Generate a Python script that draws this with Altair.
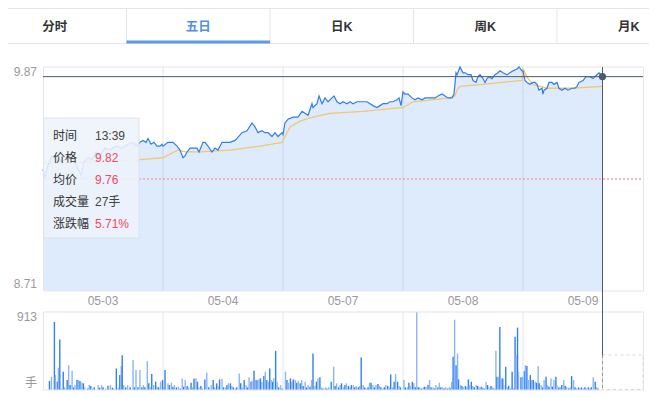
import altair as alt
import pandas as pd

FONT = "Arial, 'Noto Sans CJK SC', sans-serif"

# ---------------- data ----------------
tabs = ["分时", "五日", "日K", "周K", "月K"]
active_tab = "五日"

day_labels = ["05-03", "05-04", "05-07", "05-08", "05-09"]
day_centers = [120, 360, 600, 840, 1080]      # minute index (240 per day)
day_bounds = [240, 480, 720, 960]

price_top, price_bottom = 9.87, 8.71
prev_close = 9.29
vol_max = 913
cur_m, cur_price = 1119, 9.82

price_m = [0, 4, 10, 18, 26, 38, 50, 62, 70, 76, 82, 90, 98, 106, 114, 124, 134, 146, 158, 170,
           180, 188, 194, 200, 206, 210, 216, 222, 228, 234, 238,
           240, 250, 260, 268, 274, 280, 284, 288, 294, 300, 308, 312, 320, 324, 330, 338, 344, 350,
           358, 364, 374, 384, 388, 398, 408, 418, 424, 430, 438, 444, 450, 458, 464, 470, 478,
           480, 484, 490, 500, 510, 518, 524, 530, 538, 540, 548, 552, 558, 564, 570, 578, 582, 588,
           594, 600, 608, 614, 620, 628, 634, 640, 648, 654, 660, 668, 674, 680, 688, 694, 700, 708,
           712, 716,
           720, 724, 730, 738, 744, 750, 758, 764, 770, 778, 784, 790, 798, 804, 810, 818, 822, 826,
           828, 834, 840, 844, 850, 856, 860, 866, 870, 874, 880, 884, 888, 892, 898, 904, 910, 914,
           920, 928, 934, 940, 948, 952, 958,
           960, 964, 968, 974, 980, 984, 988, 992, 998, 1000, 1002, 1008, 1012, 1018, 1022, 1028,
           1032, 1038, 1044, 1050, 1058, 1064, 1068, 1072, 1080, 1086, 1094, 1100, 1104, 1108, 1112,
           1116, 1119]
price_v = [9.34, 9.30, 9.36, 9.41, 9.39, 9.38, 9.40, 9.39, 9.34, 9.31, 9.38, 9.40, 9.39, 9.43, 9.41,
           9.45, 9.44, 9.46, 9.45, 9.47, 9.48, 9.46, 9.48, 9.49, 9.48, 9.50, 9.47, 9.48, 9.46, 9.46, 9.47,
           9.46, 9.48, 9.48, 9.46, 9.44, 9.40, 9.41, 9.43, 9.45, 9.45, 9.45, 9.43, 9.48, 9.48, 9.46, 9.43,
           9.45, 9.44, 9.48, 9.48, 9.48, 9.49, 9.50, 9.53, 9.54, 9.58, 9.56, 9.53, 9.54, 9.53, 9.53, 9.51,
           9.53, 9.51, 9.53,
           9.52, 9.58, 9.60, 9.61, 9.61, 9.64, 9.63, 9.62, 9.68, 9.66, 9.68, 9.72, 9.68, 9.71, 9.69, 9.71,
           9.72, 9.69, 9.68, 9.69, 9.68, 9.69, 9.68, 9.69, 9.69, 9.69, 9.69, 9.68, 9.67, 9.66, 9.67, 9.68,
           9.68, 9.69, 9.69, 9.70, 9.71, 9.67,
           9.74, 9.73, 9.73, 9.71, 9.70, 9.71, 9.70, 9.71, 9.71, 9.71, 9.71, 9.72, 9.73, 9.72, 9.71, 9.71,
           9.73, 9.84, 9.83, 9.87, 9.84, 9.84, 9.83, 9.83, 9.80, 9.79, 9.82, 9.83, 9.81, 9.79, 9.81, 9.82,
           9.81, 9.83, 9.84, 9.85, 9.84, 9.83, 9.84, 9.85, 9.86, 9.87, 9.85,
           9.85, 9.80, 9.79, 9.78, 9.79, 9.79, 9.78, 9.75, 9.76, 9.73, 9.75, 9.76, 9.79, 9.79, 9.78, 9.79,
           9.76, 9.75, 9.76, 9.75, 9.76, 9.76, 9.77, 9.79, 9.80, 9.82, 9.82, 9.81, 9.82, 9.83, 9.84, 9.83,
           9.82]

avg_m = [0, 114, 194, 238, 240, 270, 284, 314, 374, 434, 478, 480, 484, 494, 514, 540, 574, 640, 716,
         720, 740, 814, 824, 828, 834, 880, 958, 960, 970, 980, 1008, 1054, 1119]
avg_v = [9.37, 9.38, 9.39, 9.40, 9.40, 9.44, 9.43, 9.43, 9.44, 9.46, 9.48, 9.49, 9.51, 9.56, 9.59, 9.61,
         9.63, 9.64, 9.66, 9.66, 9.69, 9.71, 9.72, 9.75, 9.77, 9.78, 9.80, 9.86, 9.81, 9.78, 9.76, 9.76,
         9.77]

vol_m = [3, 7, 13, 15, 19, 21, 24, 27, 31, 34, 39, 42, 45, 49, 52, 55, 59, 62, 65, 69, 72, 75, 81, 84,
         87, 91, 94, 102, 105, 109, 112, 117, 122, 127, 131, 134, 139, 143, 146, 149, 151, 154, 158,
         162, 167, 173, 176, 179, 183, 187, 191, 194, 197, 202, 205, 209, 211, 215, 219, 222, 225, 229,
         233, 235, 238,
         244, 247, 251, 254, 257, 261, 265, 269, 273, 276, 279, 283, 286, 291, 294, 297, 301, 304, 307,
         311, 314, 319, 323, 327, 332, 336, 339, 343, 346, 349, 354, 357, 361, 364, 367, 371, 374, 377,
         381, 384, 389, 392, 395, 399, 403, 406, 409, 413, 415, 419, 422, 425, 429, 432, 435, 439, 442,
         445, 449, 451, 454, 457, 459, 463, 466, 469, 473, 476,
         483, 486, 489, 493, 496, 499, 503, 506, 509, 513, 516, 519, 523, 526, 529, 533, 536, 539, 543,
         546, 549, 553, 556, 559, 564, 567, 571, 576, 581, 584, 587, 591, 594, 597, 601, 604, 607, 611,
         614, 617, 621, 624, 627, 631, 634, 637, 641, 644, 647, 651, 654, 657, 661, 664, 667, 671, 674,
         677, 681, 684, 687, 691, 694, 697, 701, 704, 707, 711, 714, 717,
         724, 727, 731, 734, 737, 741, 744, 747, 750, 753, 756, 759, 763, 766, 769, 773, 776, 779, 783,
         786, 789, 793, 796, 799, 803, 806, 809, 813, 816, 819, 821, 824, 827, 830, 833, 835, 839, 842,
         845, 849, 852, 855, 857, 861, 864, 867, 871, 874, 877, 881, 884, 887, 891, 894, 897, 901, 904,
         907, 911, 913, 916, 919, 922, 925, 927, 931, 934, 937, 941, 944, 947, 950, 952, 955, 957,
         962, 965, 969, 971, 974, 977, 981, 984, 987, 991, 994, 997, 999, 1003, 1006, 1009, 1013, 1016,
         1019, 1023, 1026, 1029, 1033, 1035, 1039, 1042, 1045, 1049, 1052, 1055, 1059, 1062, 1065, 1069,
         1072, 1075, 1079, 1082, 1085, 1089, 1092, 1095, 1099, 1102, 1105, 1109, 1113, 1116, 1119]
vol_v = [105, 155, 796, 175, 97, 260, 590, 19, 214, 31, 117, 291, 58, 225, 31, 58, 117, 117, 105, 89, 78,
         31, 19, 58, 47, 19, 31, 58, 27, 58, 31, 19, 51, 58, 27, 19, 252, 27, 175, 280, 408, 58, 31, 58,
         31, 350, 31, 233, 31, 233, 31, 58, 31, 338, 78, 31, 186, 58, 97, 39, 31, 97, 117, 31, 233,
         78, 58, 85, 39, 58, 31, 39, 19, 136, 39, 117, 47, 31, 85, 31, 136, 136, 97, 31, 47, 19, 124, 206,
         31, 58, 117, 31, 78, 47, 124, 128, 31, 31, 58, 78, 78, 47, 31, 19, 31, 194, 78, 31, 117, 58, 31,
         148, 97, 109, 225, 117, 117, 124, 136, 97, 163, 214, 117, 97, 252, 117, 97, 136, 458, 97, 31, 58,
         19,
         214, 117, 85, 136, 97, 124, 117, 85, 109, 78, 117, 47, 97, 31, 58, 39, 117, 427, 47, 97, 136, 148,
         31, 19, 31, 19, 31, 97, 272, 47, 78, 31, 58, 78, 31, 58, 78, 47, 31, 58, 58, 31, 47, 31, 47, 381,
         58, 31, 19, 31, 85, 85, 58, 31, 58, 70, 47, 31, 19, 31, 58, 47, 31, 183, 31, 97, 186, 97, 47, 31,
         117, 31, 31, 85, 47, 97, 78, 31, 913, 31, 31, 19, 31, 39, 31, 58, 117, 31, 31, 19, 58, 31, 85, 31,
         31, 19, 31, 19, 31, 19, 97, 389, 824, 291, 427, 124, 58, 47, 31, 47, 31, 124, 58, 97, 47, 31, 58,
         47, 31, 39, 31, 19, 97, 58, 31, 47, 31, 19, 458, 155, 155, 738, 136, 136, 58, 272, 31, 47, 19,
         214, 19, 622, 408, 730, 214,
         148, 155, 221, 291, 280, 117, 175, 117, 117, 97, 85, 280, 78, 58, 31, 117, 155, 58, 39, 136, 39,
         117, 155, 58, 31, 31, 58, 117, 47, 31, 19, 31, 163, 117, 31, 19, 31, 19, 31, 19, 31, 19, 31, 19,
         31, 148, 97, 31, 19]

tip_keys = ["时间", "价格", "均价", "成交量", "涨跌幅"]
tip_vals = ["13:39", "9.82", "9.76", "27手", "5.71%"]
tip_red = [False, True, True, False, True]

# ---------------- frames ----------------
price_df = pd.DataFrame({"m": price_m, "p": price_v})
price_df["base"] = price_bottom
avg_df = pd.DataFrame({"m": avg_m, "p": avg_v})
vol_df = pd.DataFrame({"m": vol_m, "v": vol_v})
vol_df["shade"] = ["a" if i % 2 == 0 else "b" for i in range(len(vol_df))]
one = pd.DataFrame({"k": [0]})
bounds_df = pd.DataFrame({"m": day_bounds})
days_df = pd.DataFrame({"m": day_centers, "d": day_labels})
tabs_df = pd.DataFrame({"tab": tabs})
tip_df = pd.DataFrame({"key": tip_keys, "val": tip_vals, "red": tip_red})

xs = alt.Scale(domain=[0, 1200], range=[0, 600], nice=False, zero=False)
ys_p = alt.Scale(domain=[price_bottom, price_top], range=[283, 59], nice=False, zero=False)
ys_v = alt.Scale(domain=[0, vol_max], range=[382, 304], nice=False, zero=True)
tab_scale = alt.Scale(type="band", domain=tabs, range=[-60, 657.5], paddingInner=0, paddingOuter=0)
row_scale = alt.Scale(type="point", domain=tip_keys, range=[128, 216], padding=0)

GRID = "#e3e5e8"
layers = []

# tabs
layers.append(alt.Chart(one).mark_rule(color=GRID, strokeWidth=1).encode(
    x=alt.value(-35), x2=alt.value(612), y=alt.value(0.5)))
layers.append(alt.Chart(one).mark_rule(color=GRID, strokeWidth=1).encode(
    x=alt.value(-35), x2=alt.value(612), y=alt.value(35.5)))
layers.append(alt.Chart(tabs_df[tabs_df.tab != tabs[0]]).mark_rule(color=GRID, strokeWidth=1).encode(
    x=alt.X("tab:N", scale=tab_scale, bandPosition=0, axis=None), y=alt.value(0), y2=alt.value(35)))
layers.append(alt.Chart(tabs_df[tabs_df.tab == active_tab]).mark_rect(color="#5f9be8").encode(
    x=alt.X("tab:N", scale=tab_scale, axis=None), y=alt.value(32.5), y2=alt.value(35.5)))
layers.append(alt.Chart(tabs_df).mark_text(font=FONT, fontSize=12.5, fontWeight="bold", baseline="middle").encode(
    x=alt.X("tab:N", scale=tab_scale, axis=None), y=alt.value(19),
    text="tab:N",
    color=alt.condition(alt.datum.tab == active_tab, alt.value("#4f8fe6"), alt.value("#333333"))))

# price panel grid
layers.append(alt.Chart(bounds_df).mark_rule(color=GRID).encode(
    x=alt.X("m:Q", scale=xs, axis=None), y=alt.value(59), y2=alt.value(283)))
# area
layers.append(alt.Chart(price_df).mark_area(color="#3b86f5", opacity=0.17).encode(
    x=alt.X("m:Q", scale=xs, axis=None),
    y=alt.Y("p:Q", scale=ys_p, axis=None, stack=None),
    y2="base:Q"))
# borders
layers.append(alt.Chart(one).mark_rect(fill=None, stroke=GRID, strokeWidth=1).encode(
    x=alt.value(0.5), x2=alt.value(600.5), y=alt.value(59), y2=alt.value(283)))
# prev close dotted
layers.append(alt.Chart(pd.DataFrame({"p": [prev_close]})).mark_rule(color="#f5a3ab", strokeDash=[2, 2], strokeWidth=1.5).encode(
    y=alt.Y("p:Q", scale=ys_p, axis=None), x=alt.value(0), x2=alt.value(600)))
# avg line
layers.append(alt.Chart(avg_df).mark_line(color="#f5c66c", strokeWidth=1.3).encode(
    x=alt.X("m:Q", scale=xs, axis=None), y=alt.Y("p:Q", scale=ys_p, axis=None)))
# price line
layers.append(alt.Chart(price_df).mark_line(color="#2e7df4", strokeWidth=1.2).encode(
    x=alt.X("m:Q", scale=xs, axis=None), y=alt.Y("p:Q", scale=ys_p, axis=None)))

# volume panel
layers.append(alt.Chart(bounds_df).mark_rule(color=GRID).encode(
    x=alt.X("m:Q", scale=xs, axis=None), y=alt.value(304), y2=alt.value(382)))
layers.append(alt.Chart(vol_df).mark_bar(size=1.4).encode(
    x=alt.X("m:Q", scale=xs, axis=None), y=alt.Y("v:Q", scale=ys_v, axis=None),
    color=alt.Color("shade:N", scale=alt.Scale(domain=["a", "b"], range=["#3080f5", "#8ab6f8"]), legend=None)))
layers.append(alt.Chart(one).mark_rect(fill=None, stroke=GRID, strokeWidth=1).encode(
    x=alt.value(0.5), x2=alt.value(600.5), y=alt.value(304), y2=alt.value(382)))
# white patch at lower right
layers.append(alt.Chart(pd.DataFrame({"a": [cur_m], "b": [1200]})).mark_rect(fill="white", stroke="#d9d9d9", strokeDash=[3, 3]).encode(
    x=alt.X("a:Q", scale=xs, axis=None), x2="b:Q", y=alt.value(347), y2=alt.value(381.5)))

# crosshair
cur_df = pd.DataFrame({"m": [cur_m], "p": [cur_price]})
layers.append(alt.Chart(cur_df).mark_rule(color="#4a5a6f", strokeWidth=1).encode(
    y=alt.Y("p:Q", scale=ys_p, axis=None), x=alt.value(0), x2=alt.value(600)))
layers.append(alt.Chart(cur_df).mark_rule(color="#4a5a6f", strokeWidth=1).encode(
    x=alt.X("m:Q", scale=xs, axis=None), y=alt.value(59), y2=alt.value(347)))
layers.append(alt.Chart(cur_df).mark_rule(color="#8a96a6", strokeWidth=1, strokeDash=[3, 3]).encode(
    x=alt.X("m:Q", scale=xs, axis=None), y=alt.value(347), y2=alt.value(382)))
layers.append(alt.Chart(cur_df).mark_point(filled=True, size=50, color="#4a5a6f", opacity=1).encode(
    x=alt.X("m:Q", scale=xs, axis=None), y=alt.Y("p:Q", scale=ys_p, axis=None)))

# tooltip box
layers.append(alt.Chart(one).mark_rect(fill="#eef2fb", fillOpacity=0.88, stroke="#dde2ea", strokeWidth=1).encode(
    x=alt.value(0.5), x2=alt.value(96), y=alt.value(110), y2=alt.value(230)))
layers.append(alt.Chart(tip_df).mark_text(font=FONT, fontSize=12, align="left", baseline="middle", color="#333333").encode(
    x=alt.value(10), y=alt.Y("key:N", scale=row_scale, axis=None), text="key:N"))
layers.append(alt.Chart(tip_df).mark_text(font=FONT, fontSize=12, align="left", baseline="middle").encode(
    x=alt.value(52), y=alt.Y("key:N", scale=row_scale, axis=None), text="val:N",
    color=alt.condition(alt.datum.red, alt.value("#ee4a5c"), alt.value("#444444"))))

# axis labels
lab = dict(font=FONT, fontSize=12, color="#999999")
layers.append(alt.Chart(pd.DataFrame({"p": [price_top]})).mark_text(align="right", baseline="top", **lab).encode(
    x=alt.value(-6), y=alt.Y("p:Q", scale=ys_p, axis=None), text=alt.Text("p:Q", format=".2f")))
layers.append(alt.Chart(pd.DataFrame({"p": [price_bottom]})).mark_text(align="right", baseline="bottom", **lab).encode(
    x=alt.value(-6), y=alt.Y("p:Q", scale=ys_p, axis=None), text=alt.Text("p:Q", format=".2f")))
layers.append(alt.Chart(pd.DataFrame({"v": [vol_max]})).mark_text(align="right", baseline="top", **lab).encode(
    x=alt.value(-6), y=alt.Y("v:Q", scale=ys_v, axis=None), text=alt.Text("v:Q", format="d")))
layers.append(alt.Chart(pd.DataFrame({"v": [0], "t": ["手"]})).mark_text(align="right", baseline="bottom", **lab).encode(
    x=alt.value(-6), y=alt.Y("v:Q", scale=ys_v, axis=None), text="t:N"))
layers.append(alt.Chart(days_df).mark_text(align="center", baseline="middle", **lab).encode(
    x=alt.X("m:Q", scale=xs, axis=None), y=alt.value(293), text="d:N"))

chart = alt.layer(*layers).resolve_scale(
    x="independent", y="independent", color="independent"
).properties(
    width=600, height=384,
    autosize=alt.AutoSizeParams(type="none"),
    padding={"left": 35, "top": 0, "right": 6, "bottom": 0},
).configure_view(stroke=None)

chart.save("out.html", embed_options={"renderer": "svg", "actions": False})
